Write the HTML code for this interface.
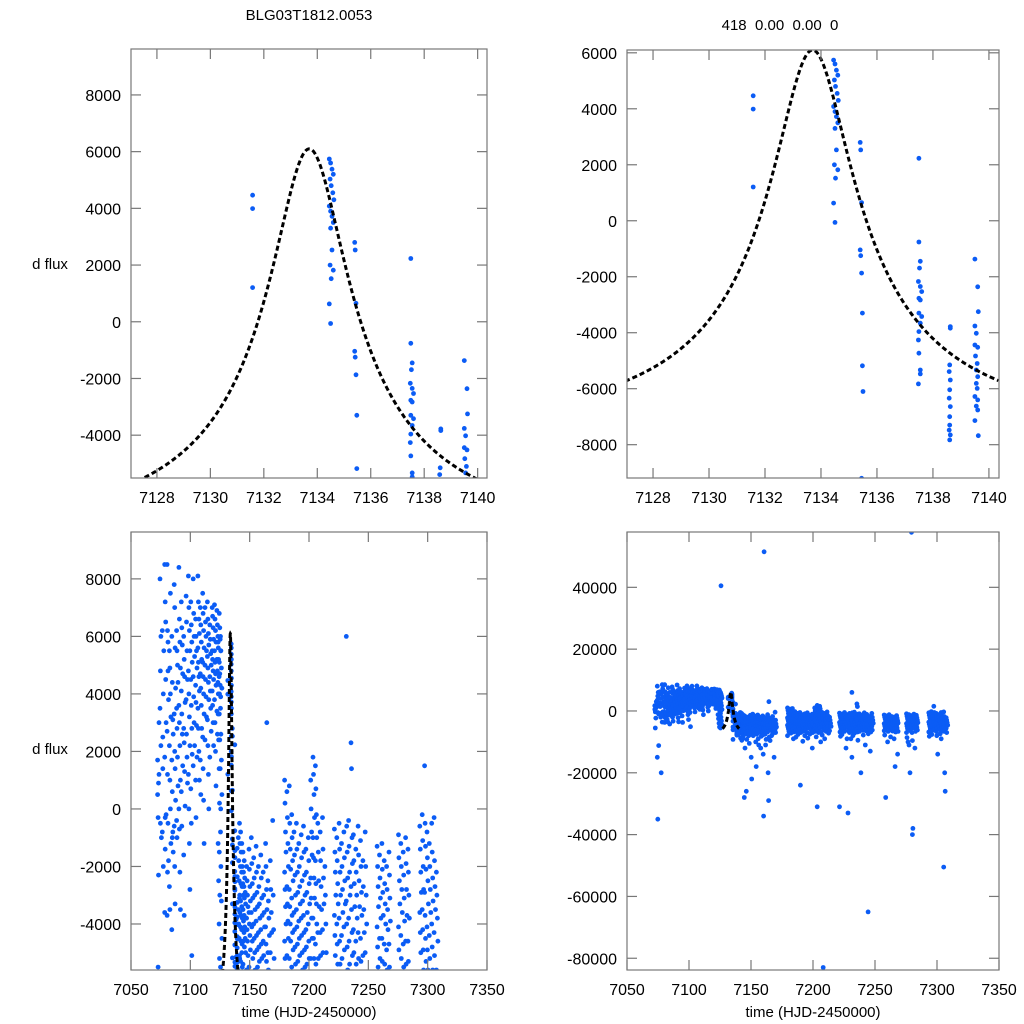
<!DOCTYPE html>
<html><head><meta charset="utf-8">
<style>
html,body{margin:0;padding:0;background:#fff;width:1024px;height:1024px;overflow:hidden;}
svg{display:block;font-family:"Liberation Sans",sans-serif;}
</style></head>
<body>
<svg id="fig" width="1024" height="1024" viewBox="0 0 1024 1024" xmlns="http://www.w3.org/2000/svg">
<text x="309" y="20" font-size="15" text-anchor="middle">BLG03T1812.0053</text>
<text x="780" y="30" font-size="15" text-anchor="middle" xml:space="preserve">418  0.00  0.00  0</text>
<text x="50" y="269" font-size="15" text-anchor="middle">d flux</text>
<text x="50" y="754" font-size="15" text-anchor="middle">d flux</text>
<text x="309" y="1017" font-size="15" text-anchor="middle">time (HJD-2450000)</text>
<text x="813" y="1017" font-size="15" text-anchor="middle">time (HJD-2450000)</text>
</svg>
<script>
// Zoomed-in photometry near the peak (time, flux)
const zoomTimes = [7131.58,7131.58,7131.58,
 7134.45,7134.5,7134.55,7134.6,7134.48,7134.52,7134.58,7134.62,7134.45,7134.5,7134.55,7134.6,7134.5,7134.55,7134.48,7134.6,7134.52,7134.45,7134.5,
 7135.4,7135.42,7135.45,7135.4,7135.42,7135.45,7135.48,7135.48,7135.5,7135.45,
 7137.5,7137.5,7137.55,7137.52,7137.48,7137.55,7137.6,7137.5,7137.55,7137.5,7137.6,7137.55,7137.5,7137.48,7137.5,7137.55,7137.55,7137.48,
 7138.62,7138.62,7138.6,7138.58,7138.62,7138.6,7138.58,7138.62,7138.6,7138.6,7138.58,7138.62,7138.6,
 7139.5,7139.6,7139.62,7139.5,7139.55,7139.5,7139.6,7139.52,7139.58,7139.55,7139.6,7139.55,7139.58,7139.5,7139.6,7139.55,7139.6,7139.5,7139.62];
const zoomFlux = [4465,3990,1204,
 5740,5600,5380,5200,5030,4800,4550,4300,4080,3900,3720,3500,3300,2530,2000,1820,1520,630,-60,
 2800,2530,650,-1040,-1250,-1870,-3300,-5180,-6100,-9200,
 2230,-760,-1450,-1690,-2170,-2350,-2530,-2770,-2830,-3300,-3420,-3660,-3960,-4260,-4730,-5330,-5470,-5830,
 -3780,-3840,-5150,-5390,-5690,-6040,-6340,-6640,-7000,-7300,-7480,-7650,-7830,
 -1370,-2360,-3250,-3760,-4020,-4440,-4520,-4830,-5100,-5330,-5570,-5810,-5990,-6280,-6400,-6620,-6760,-7140,-7680];
// Full season: nights (HJD) and flux values per night in units of 100
const nightTimes = [7073,7075,7077,7079,7081,7083,7085,7087,7089,7091,7093,7095,7097,7099,7101,7103,7105,7107,7109,7111,7113,7115,7117,7119,7121,7123,7125,7124,7126,
 7141,7142,7143,7144,7145,7146,7148,7150,7152,7154,7156,7158,7160,7162,7164,7165,7166,7168,7170,
 7180,7182,7184,7186,7188,7190,7192,7194,7196,7198,7200,7202,7204,7206,7208,7210,7212,7214,
 7222,7224,7226,7228,7230,7232,7234,7236,7238,7240,7242,7244,7245,7246,7248,
 7258,7260,7262,7264,7266,7268,7276,7278,7280,7282,7284,7294,7296,7298,7300,7302,7304,7306,7308];
const nightFlux = [
 [17,-3,-23,12,5,-55,9,30],[80,48,22,-10,35,-5,60,-112,-150,-350],[-8,25,40,55,62,14,-20,-200],[85,72,65,30,18,-3,45,-2,-36,-14],
 [85,62,48,38,27,12,-5,-18,-37,-22,58],[55,49,40,32,22,10,0,-12,-27,-35,75],[60,44,31,26,17,6,-8,-15,-42,-10],[78,70,56,42,33,20,14,3,-6,-20,-33],
 [62,55,50,44,35,28,18,8,-4,-10],[84,66,58,49,36,30,22,10,0,-7,-22,-35],[72,63,57,47,41,33,26,15,6,-6],[60,52,46,37,28,23,13,1,-16,-37],
 [74,65,55,45,38,26,18,9],[81,70,62,55,48,40,32,22,12,0,-12,-28],[72,64,58,51,45,36,28,19,7,-5,-51],[80,68,60,53,46,39,30,22,15],
 [66,60,55,49,43,37,29,18,10,-3],[81,72,66,61,56,51,46,41,35,28,20,10],[70,64,58,52,47,42,36,28,17,5],[75,68,62,56,51,46,40,33,25,14,3,-12],
 [70,65,60,55,50,45,39,32,24],[72,66,61,57,53,49,44,38,31,22,12,0],[64,59,54,50,46,41,35,27,18],[70,67,63,59,55,52,48,45,41,36,30,22],
 [71,66,62,58,55,51,47,43,38,30,20,8],[69,64,60,56,52,48,44,40,34,26],[68,63,59,55,51,47,43,39,33,24,14,0,-15,-30],
 [58,52,46,40,33,24,14,2,-12,-25,-40,-52],[60,55,49,42,35,26,17,5,-8,-20,-32,-45,-55,405],
 [-10,-18,-25,-30,-35,-40,-45,-52,-58,-65,-72,-88],[-5,-12,-20,-26,-31,-36,-41,-46,-51,-57,-70,-95],[-8,-15,-22,-27,-32,-37,-42,-47,-53,-60,-90,-78],
 [-12,-20,-26,-30,-34,-38,-42,-46,-50,-55,-62,-280,-84],[-15,-22,-27,-31,-35,-39,-43,-48,-54,-62,-120,-70],[-18,-24,-29,-33,-37,-41,-45,-50,-57,-75,-260,-92],
 [-20,-25,-30,-34,-38,-42,-46,-51,-56,-65,-80,-105],[-14,-21,-27,-32,-36,-40,-44,-49,-55,-60,-150,-220,-72],[-10,-19,-26,-31,-36,-41,-46,-52,-58,-80,-68],
 [-17,-24,-30,-35,-40,-45,-50,-56,-62,-100,-180,-75],[-13,-22,-29,-34,-39,-44,-49,-55,-64,-90,-110],[-20,-27,-33,-38,-43,-48,-53,-59,-70,-120,-82],
 [-16,-24,-31,-37,-42,-47,-52,-58,-66,-140,-340,515,-78],[-22,-30,-36,-41,-46,-51,-57,-63,-75,-110,-92],[-12,-20,-28,-35,-41,-47,-53,-59,-68,-200,-290,-85],
 [30],[-25,-32,-38,-44,-50,-56,-63,-80,-96],[-18,-28,-36,-43,-50,-57,-65,-150,-74],[-4,-30,-42,-52,-60,-70],
 [10,2,-8,-15,-22,-28,-34,-40,-46,-52,-58,-66,-80],[6,-3,-12,-20,-27,-33,-39,-45,-51,-57,-72],[8,-5,-14,-21,-28,-34,-40,-46,-52,-60,-90,-68],
 [-2,-10,-18,-25,-31,-37,-43,-49,-55,-64,-85],[-8,-16,-23,-30,-36,-42,-48,-54,-65,-76],[-5,-14,-22,-29,-35,-41,-47,-53,-60,-240,-70],
 [-12,-20,-27,-33,-39,-45,-51,-58,-66,-98],[-9,-17,-25,-32,-38,-44,-50,-56,-80,-65],[-6,-15,-23,-30,-37,-43,-49,-55,-70,-88],
 [-14,-22,-29,-36,-42,-48,-54,-62,-75],[-10,-18,-26,-33,-40,-46,-52,-58,-120,-70],[10,0,-8,-16,-24,-31,-38,-45,-52,-58,-66,-84],
 [18,12,5,-3,-10,-17,-24,-31,-38,-45,-52,-70,-310,-62],[15,7,-2,-10,-18,-26,-33,-40,-47,-54,-100,-68],[-5,-15,-25,-34,-43,-52,-830,-62,-78],
 [-8,-18,-27,-35,-43,-51,-58,-66,-90],[-3,-14,-24,-33,-42,-50,-60,-72],[-20,-30,-40,-50,-64],
 [-7,-15,-22,-30,-37,-44,-51,-58,-310,-68,-82],[-10,-18,-26,-33,-40,-47,-54,-62,-76],[-5,-14,-22,-30,-38,-46,-54,-120,-66],[-12,-20,-28,-36,-44,-52,-330,-64,-90],
 [-8,-17,-25,-33,-41,-49,-57,-90,-70],[60,-6,-15,-24,-32,-40,-48,-56,-150,-66,-80],[-4,-13,-22,-30,-38,-46,-54,-62,-72],[23,14,-10,-19,-27,-35,-43,-51,-59,-68,-95],
 [-9,-18,-26,-34,-42,-50,-58,-200,-66],[-14,-22,-30,-38,-46,-54,-63,-78],[-6,-16,-25,-34,-43,-52,-110,-64],[-11,-20,-29,-37,-45,-53,-62,-74],[-650],
 [-18,-27,-35,-43,-51,-58,-130,-68],[-8,-20,-30,-40,-50,-62],
 [-13,-20,-27,-34,-41,-48,-55,-280,-64,-78],[-16,-24,-31,-38,-45,-52,-100,-66],[-12,-21,-29,-37,-45,-53,-62,-84],[-18,-26,-33,-40,-47,-54,-65],
 [-20,-28,-35,-42,-49,-56,-180,-68,-90],[-15,-23,-31,-39,-47,-55,-140,-66],[-9,-17,-25,-33,-41,-49,-57,-100,-70,-86],[-12,-20,-28,-36,-44,-52,-200,-64,-110],
 [-15,-23,-31,-39,-47,-55,-400,-380,578,-70,-96],[-10,-19,-28,-37,-46,-54,-120,-66],[-14,-22,-30,-38,-46,-53,-62],[-6,-14,-22,-29,-36,-43,-50,-58,-68,-82],
 [-2,-11,-20,-28,-35,-42,-49,-56,-64,-76],[15,-5,-13,-21,-29,-37,-45,-53,-62],[-8,-17,-25,-33,-41,-49,-56,-140,-66,-80],[-12,-20,-28,-36,-44,-52,-60,-74],
 [-5,-15,-24,-32,-40,-48,-56,-64,-90],[-3,-18,-27,-35,-43,-51,-200,-260,-505,-66],[-22,-30,-38,-46,-56,-70]];
// Microlensing model parameters
const modelT0 = [7133.7];
const modelU0 = [0.12];
const modelTE = [12];
const modelFs = [1843];
const modelBase = [-7500];
const topXTicks = [7128,7130,7132,7134,7136,7138,7140];
const bottomXTicks = [7050,7100,7150,7200,7250,7300,7350];
const yTicksTL = [-4000,-2000,0,2000,4000,6000,8000];
const yTicksTR = [-8000,-6000,-4000,-2000,0,2000,4000,6000];
const yTicksBL = [-4000,-2000,0,2000,4000,6000,8000];
const yTicksBR = [-80000,-60000,-40000,-20000,0,20000,40000];

const NS = "http://www.w3.org/2000/svg";
const svg = document.getElementById('fig');
function mk(tag, attrs){const e=document.createElementNS(NS,tag);for(const k in attrs)e.setAttribute(k,attrs[k]);return e;}

// each night's exposures span ~1.2 days of observing
const allT=[], allV=[];
nightTimes.forEach((t,i)=>nightFlux[i].forEach((v,j)=>{allT.push(t+(j%4)*0.4-0.6);allV.push(v*100);}));
zoomTimes.forEach((t,i)=>{allT.push(t);allV.push(zoomFlux[i]);});

function model(t){
  const d=(t-modelT0[0])/modelTE[0];
  const u=Math.sqrt(modelU0[0]*modelU0[0]+d*d);
  const A=(u*u+2)/(u*Math.sqrt(u*u+4));
  return modelBase[0]+modelFs[0]*(A-1);
}

function panel(id,p,xt,yt,ts,vs){
  const g=mk('g',{});
  
  
  svg.appendChild(g);
  const X=t=>p.x0+(t-p.t0)/(p.t1-p.t0)*(p.x1-p.x0);
  const Y=v=>p.y1-(v-p.v0)/(p.v1-p.v0)*(p.y1-p.y0);
  const cid='clip-'+id;
  const cp=mk('clipPath',{id:cid});cp.appendChild(mk('rect',{x:p.x0,y:p.y0,width:p.x1-p.x0,height:p.y1-p.y0}));g.appendChild(cp);
  const pts=mk('g',{'clip-path':'url(#'+cid+')',fill:'#0b5cf5'});
  
  
  g.appendChild(pts);
  for(let i=0;i<ts.length;i++){
    if(ts[i]<p.t0||ts[i]>p.t1)continue;
    const c=mk('circle',{cx:X(ts[i]).toFixed(1),cy:Y(vs[i]).toFixed(1),r:2.4});
    
    
    pts.appendChild(c);
  }
  let d='';
  for(let t=7127.0;t<=7140.36;t+=0.02){d+=(d?'L':'M')+X(t).toFixed(2)+' '+Y(model(t)).toFixed(2);}
  const ml=mk('path',{d:d,fill:'none',stroke:'#000','stroke-width':3,'stroke-dasharray':'5 3','clip-path':'url(#'+cid+')'});
  
  
  g.appendChild(ml);
  const fr=mk('rect',{x:p.x0,y:p.y0,width:p.x1-p.x0,height:p.y1-p.y0,fill:'none',stroke:'#777','stroke-width':1.2});
  
  
  g.appendChild(fr);
  xt.forEach(t=>{
    const x=X(t);
    g.appendChild(mk('line',{x1:x,x2:x,y1:p.y1,y2:p.y1-10,stroke:'#777','stroke-width':1.2}));
    g.appendChild(mk('line',{x1:x,x2:x,y1:p.y0,y2:p.y0+10,stroke:'#777','stroke-width':1.2}));
    const tx=mk('text',{x:x,y:p.y1+25,'font-size':16,'text-anchor':'middle'});tx.textContent=t;
    
    
    g.appendChild(tx);
  });
  yt.forEach(v=>{
    const y=Y(v);
    g.appendChild(mk('line',{x1:p.x0,x2:p.x0+10,y1:y,y2:y,stroke:'#777','stroke-width':1.2}));
    g.appendChild(mk('line',{x1:p.x1,x2:p.x1-10,y1:y,y2:y,stroke:'#777','stroke-width':1.2}));
    const tx=mk('text',{x:p.x0-10,y:y+6,'font-size':16,'text-anchor':'end'});tx.textContent=v;
    
    
    g.appendChild(tx);
  });
}
panel('zoom-panel-left',{x0:131,x1:487,y0:49,y1:478,t0:7127.03,t1:7140.35,v0:-5510,v1:9620},topXTicks,yTicksTL,allT,allV);
panel('zoom-panel-right',{x0:627,x1:999,y0:50,y1:478,t0:7127.07,t1:7140.36,v0:-9190,v1:6100},topXTicks,yTicksTR,allT,allV);
panel('season-panel-left',{x0:131,x1:487,y0:532,y1:970,t0:7050,t1:7350,v0:-5600,v1:9630},bottomXTicks,yTicksBL,allT,allV);
panel('season-panel-right',{x0:627,x1:999,y0:532,y1:970,t0:7050,t1:7350,v0:-83800,v1:57900},bottomXTicks,yTicksBR,allT,allV);
</script>
</body></html>
